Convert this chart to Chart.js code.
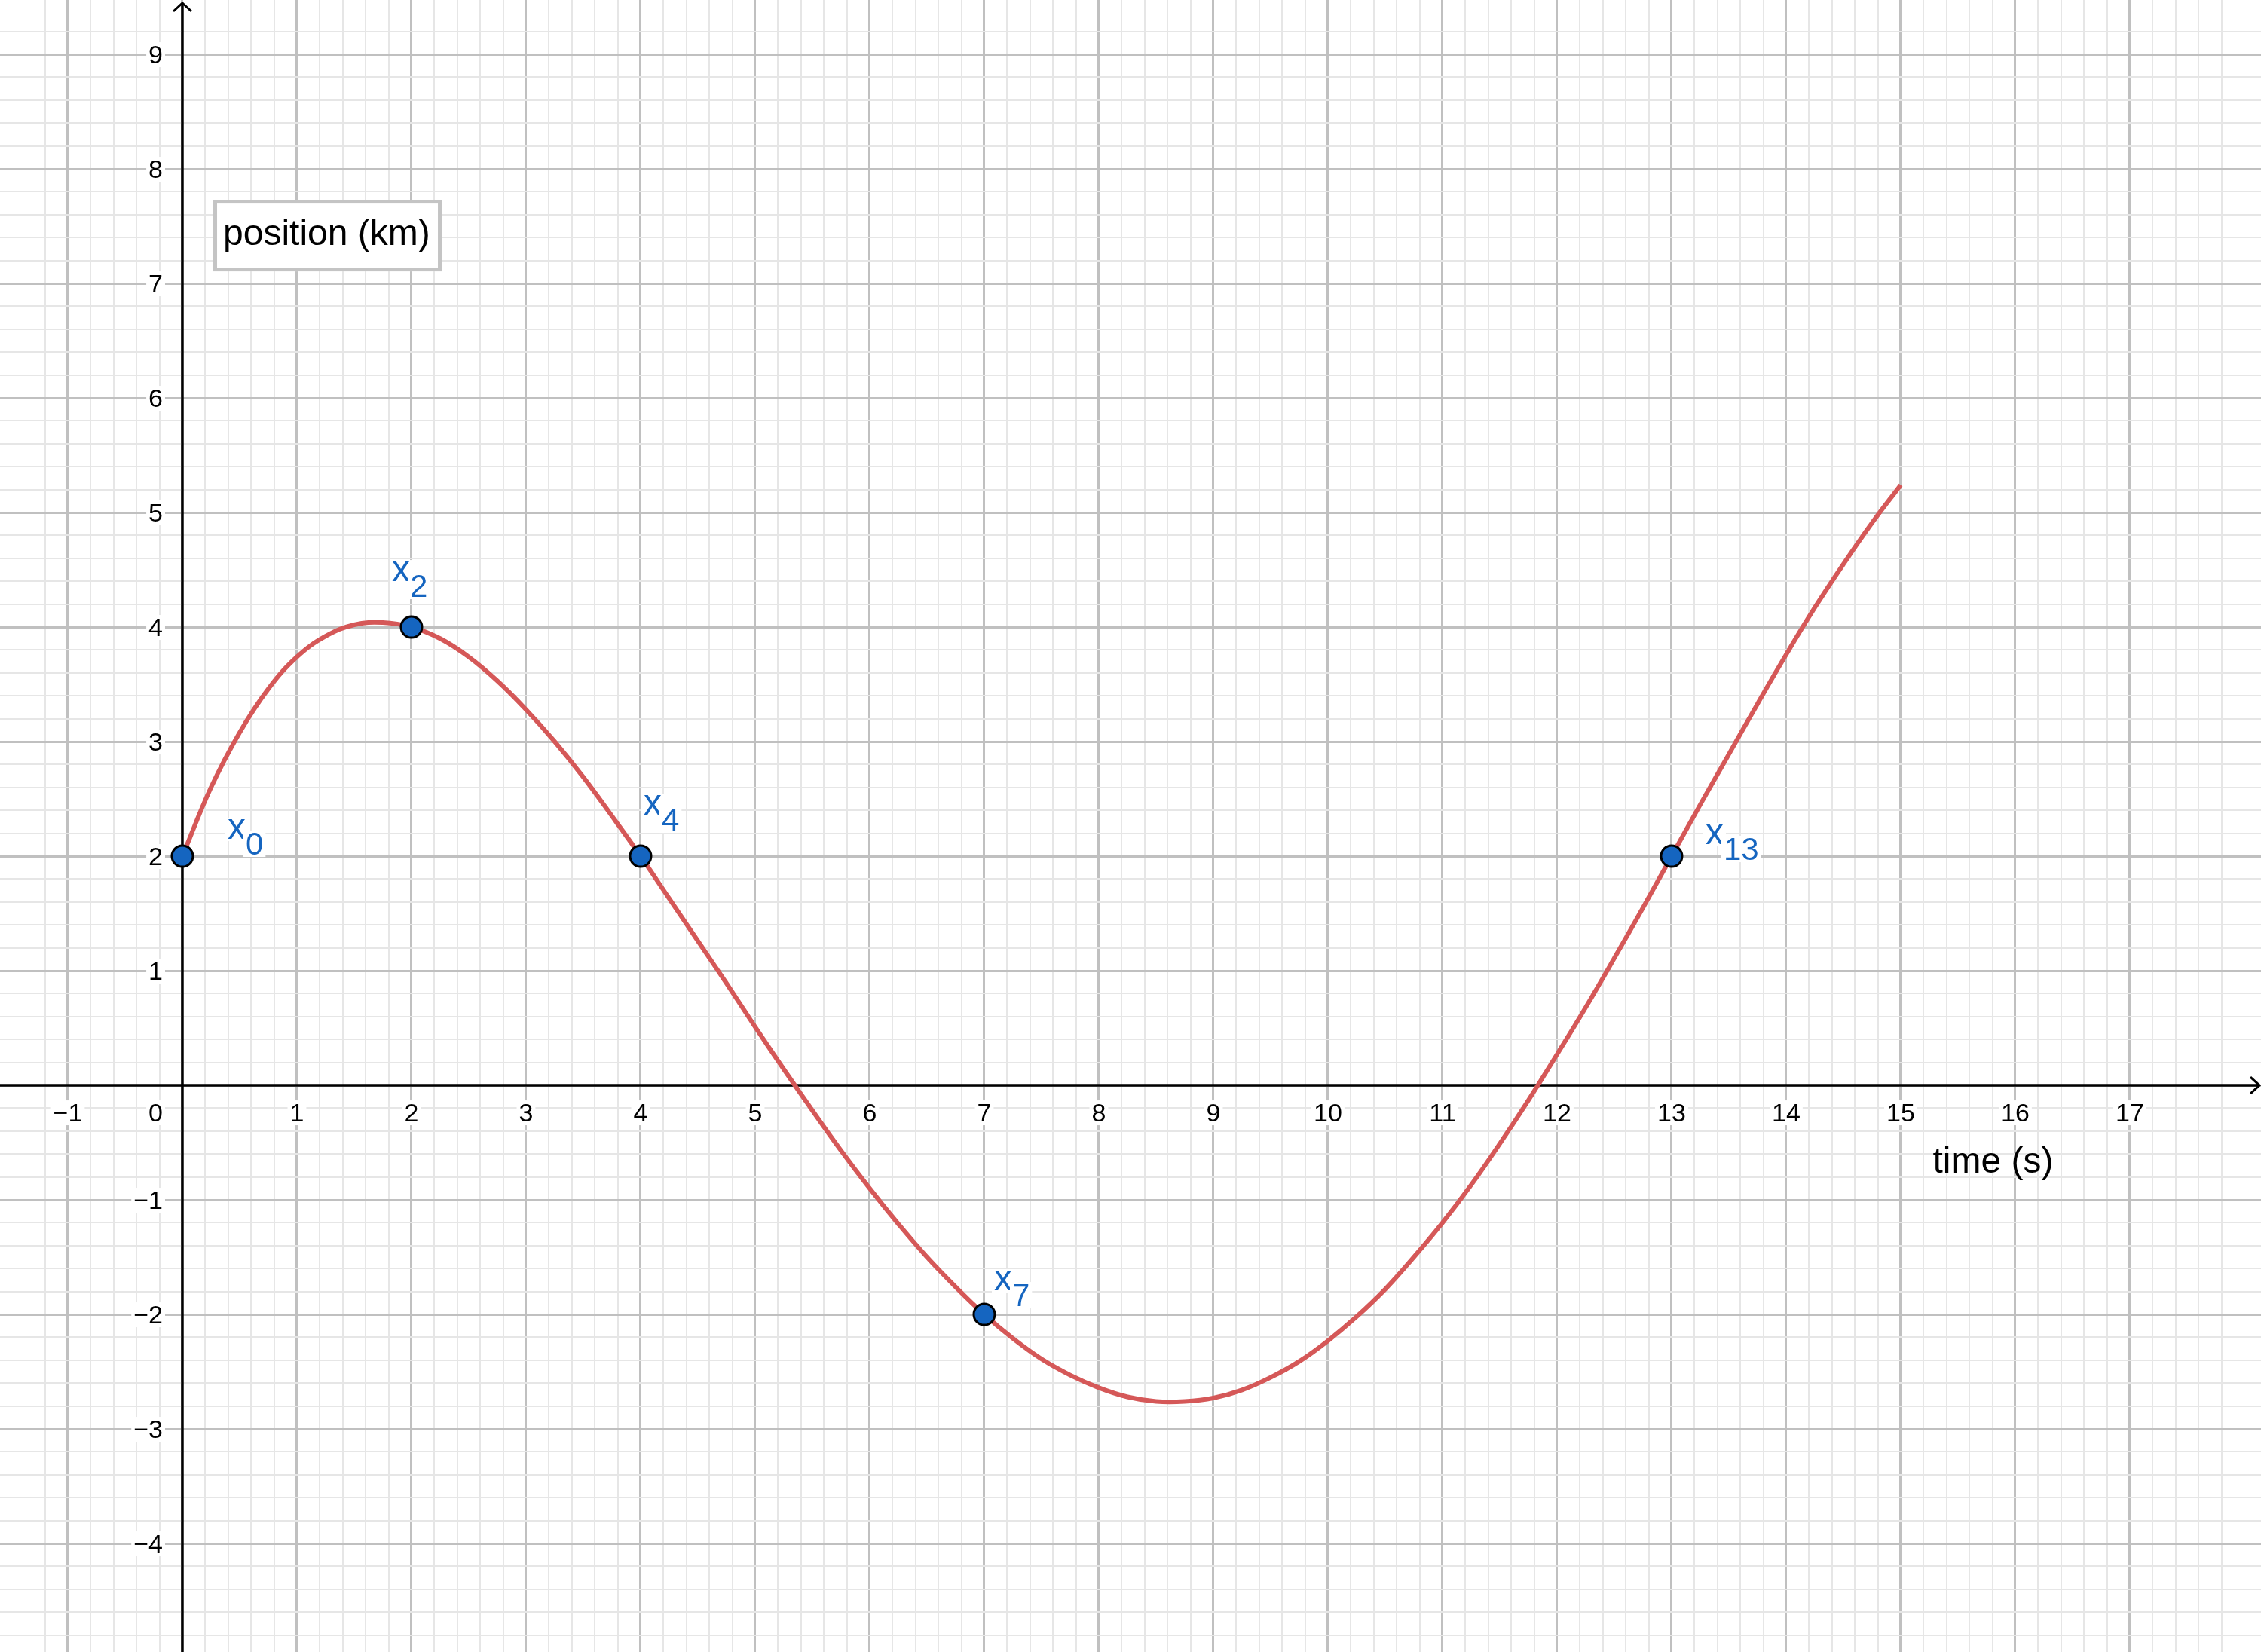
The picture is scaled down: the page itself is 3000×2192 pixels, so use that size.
<!DOCTYPE html>
<html>
<head>
<meta charset="utf-8">
<title>position vs time</title>
<script src="https://cdn.jsdelivr.net/npm/chart.js@4.4.1/dist/chart.umd.min.js"></script>
<style>
  html, body { margin: 0; padding: 0; background: #fff; }
  canvas { display: block; }
</style>
</head>
<body>
<canvas id="chart" width="3000" height="2192" style="width:3000px;height:2192px"></canvas>
<script>
// curve every quarter second
const curveTime = [0, 0.25, 0.5, 0.75, 1, 1.25, 1.5, 1.75, 2, 2.25, 2.5, 2.75, 3, 3.25,
  3.5, 3.75, 4, 4.25, 4.5, 4.75, 5, 5.25, 5.5, 5.75, 6, 6.25, 6.5, 6.75, 7, 7.25, 7.5,
  7.75, 8, 8.25, 8.5, 8.75, 9, 9.25, 9.5, 9.75, 10, 10.25, 10.5, 10.75, 11, 11.25, 11.5,
  11.75, 12, 12.25, 12.5, 12.75, 13, 13.25, 13.5, 13.75, 14, 14.25, 14.5, 14.75, 15];
const curvePos = [2, 2.60, 3.08, 3.46, 3.74, 3.92, 4.02, 4.04, 4.00, 3.90, 3.74, 3.53,
  3.28, 3.00, 2.69, 2.35, 2.00, 1.63, 1.26, 0.89, 0.51, 0.14, -0.22, -0.57, -0.90, -1.21,
  -1.50, -1.76, -2.00, -2.21, -2.39, -2.53, -2.64, -2.72, -2.76, -2.76, -2.73, -2.66,
  -2.55, -2.41, -2.23, -2.02, -1.78, -1.50, -1.20, -0.87, -0.51, -0.13, 0.27, 0.68, 1.11,
  1.55, 2.00, 2.45, 2.89, 3.33, 3.76, 4.17, 4.55, 4.91, 5.24];

// marked points
const markTime = [0, 2, 4, 7, 13];
const markPos = [2, 4, 2, -2, 2];
const markSub = ['0', '2', '4', '7', '13'];

// axis ticks
const xTickValues = [-1, 1, 2, 3, 4, 5, 6, 7, 8, 9, 10, 11, 12, 13, 14, 15, 16, 17];
const yTickValues = [-4, -3, -2, -1, 1, 2, 3, 4, 5, 6, 7, 8, 9];
const xRange = [-1.592, 18.145];
const yRange = [-4.947, 9.474];

const xTitle = 'time (s)';
const yTitle = 'position (km)';

// label placement (pixels from the point: left of "x", baseline)
const markLabelOffset = [[60, -23], [-26, -61], [4, -55], [13, -32], [45, -16]];

const FONT = '"Liberation Sans", Arial, sans-serif';
const BLUE = '#1565c0';
const RED = '#d55858';

function isMultiple(v, step) {
  const r = v / step;
  return Math.abs(r - Math.round(r)) < 1e-6;
}

const gridColor = c => {
  const v = c.tick.value;
  if (isMultiple(v, 1)) return '#c0c0c0';
  if (isMultiple(v, 0.2)) return '#e6e6e6';
  return 'rgba(0,0,0,0)';
};
const gridWidth = c => (isMultiple(c.tick.value, 1) ? 3 : 2);

function fmt(v) {
  return v < 0 ? '\u2212' + Math.abs(v) : String(v);
}

// text with a white patch behind it, like the original
function backedText(ctx, text, x, base, align, ascent, descent) {
  ctx.textAlign = align;
  const w = ctx.measureText(text).width;
  const left = align === 'right' ? x - w : align === 'center' ? x - w / 2 : x;
  ctx.fillStyle = '#fff';
  ctx.fillRect(left - 3, base - ascent, w + 6, ascent + descent);
  ctx.fillStyle = ctx.__ink;
  ctx.fillText(text, x, base);
  return w;
}

const axesPlugin = {
  id: 'axes',
  beforeDatasetsDraw(chart) {
    const { ctx, scales: { x, y } } = chart;
    const x0 = x.getPixelForValue(0);
    const y0 = y.getPixelForValue(0);
    ctx.save();
    ctx.strokeStyle = '#000';
    ctx.lineWidth = 3.5;
    ctx.beginPath();
    ctx.moveTo(x.left, y0);
    ctx.lineTo(x.right - 2, y0);
    ctx.moveTo(x0, y.bottom);
    ctx.lineTo(x0, y.top + 4);
    ctx.stroke();

    // open arrow heads
    ctx.lineWidth = 3;
    ctx.beginPath();
    ctx.moveTo(x0 - 12, y.top + 15);
    ctx.lineTo(x0, y.top + 4);
    ctx.lineTo(x0 + 12, y.top + 15);
    ctx.moveTo(x.right - 14, y0 - 11);
    ctx.lineTo(x.right - 2, y0);
    ctx.lineTo(x.right - 14, y0 + 11);
    ctx.stroke();

    ctx.font = '34px ' + FONT;
    ctx.textBaseline = 'alphabetic';
    ctx.__ink = '#000';
    xTickValues.forEach(v => {
      backedText(ctx, fmt(v), x.getPixelForValue(v), y0 + 48, 'center', 28, 5);
    });
    backedText(ctx, '0', x0 - 26, y0 + 48, 'right', 28, 5);
    yTickValues.forEach(v => {
      backedText(ctx, fmt(v), x0 - 26, y.getPixelForValue(v) + 12, 'right', 28, 5);
    });
    ctx.restore();
  }
};

const notesPlugin = {
  id: 'notes',
  afterDatasetsDraw(chart) {
    const { ctx, scales: { x, y } } = chart;
    ctx.save();
    ctx.textBaseline = 'alphabetic';

    // point names x with subscript
    ctx.__ink = BLUE;
    markTime.forEach((t, i) => {
      const px = x.getPixelForValue(t) + markLabelOffset[i][0];
      const base = y.getPixelForValue(markPos[i]) + markLabelOffset[i][1];
      ctx.font = '48px ' + FONT;
      const w = backedText(ctx, 'x', px, base, 'left', 28, 3);
      ctx.font = '42px ' + FONT;
      backedText(ctx, markSub[i], px + w, base + 21, 'left', 32, 3);
    });

    // axis title near the x axis
    ctx.font = '48px ' + FONT;
    ctx.textAlign = 'left';
    ctx.fillStyle = '#000';
    ctx.fillText(xTitle, x.getPixelForValue(15.28), y.getPixelForValue(-0.763));

    // boxed title for the vertical axis
    const bx = x.getPixelForValue(0.27);
    const by = y.getPixelForValue(7.73);
    const bw = 303, bh = 95;
    ctx.fillStyle = '#fff';
    ctx.fillRect(bx, by, bw, bh);
    ctx.strokeStyle = '#c4c4c4';
    ctx.lineWidth = 5;
    ctx.strokeRect(bx + 2.5, by + 2.5, bw - 5, bh - 5);
    ctx.fillStyle = '#000';
    ctx.fillText(yTitle, bx + 13, by + 60);
    ctx.restore();
  }
};

new Chart(document.getElementById('chart'), {
  type: 'scatter',
  data: {
    datasets: [
      {
        label: 'marks',
        order: 0,
        data: markTime.map((t, i) => ({ x: t, y: markPos[i] })),
        pointRadius: 14,
        pointBackgroundColor: BLUE,
        pointBorderColor: '#000',
        pointBorderWidth: 3,
        showLine: false
      },
      {
        label: 'position',
        order: 1,
        data: curveTime.map((t, i) => ({ x: t, y: curvePos[i] })),
        showLine: true,
        borderColor: RED,
        borderWidth: 6,
        tension: 0.4,
        pointRadius: 0,
        fill: false
      }
    ]
  },
  options: {
    responsive: false,
    devicePixelRatio: 1,
    animation: false,
    events: [],
    layout: { autoPadding: false, padding: 0 },
    plugins: {
      legend: { display: false },
      tooltip: { enabled: false }
    },
    scales: {
      x: {
        type: 'linear',
        min: xRange[0],
        max: xRange[1],
        ticks: { display: false, stepSize: 0.2, autoSkip: false },
        grid: { drawTicks: false, color: gridColor, lineWidth: gridWidth },
        border: { display: false }
      },
      y: {
        type: 'linear',
        min: yRange[0],
        max: yRange[1],
        ticks: { display: false, stepSize: 0.2, autoSkip: false },
        grid: { drawTicks: false, color: gridColor, lineWidth: gridWidth },
        border: { display: false }
      }
    }
  },
  plugins: [axesPlugin, notesPlugin]
});
</script>
</body>
</html>
